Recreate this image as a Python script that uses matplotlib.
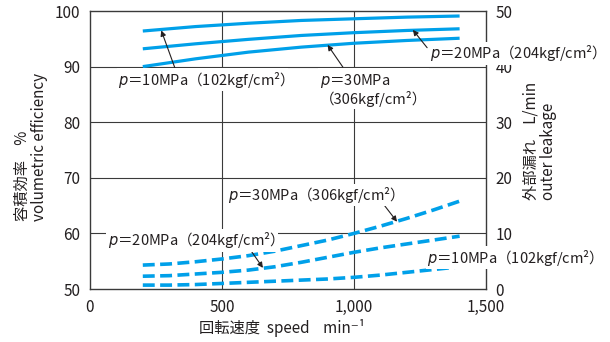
import matplotlib
matplotlib.use("Agg")
import matplotlib.pyplot as plt

plt.rcParams['font.family'] = ['Noto Sans CJK JP', 'DejaVu Sans']
plt.rcParams['mathtext.fontset'] = 'dejavusans'

# speed (min^-1)
speed_eff = [200, 400, 600, 800, 1000, 1200, 1400]
eff_10 = [96.4, 97.2, 97.8, 98.3, 98.6, 98.9, 99.1]
eff_20 = [93.2, 94.1, 94.9, 95.6, 96.1, 96.5, 96.8]
eff_30 = [90.0, 91.4, 92.6, 93.5, 94.2, 94.7, 95.1]

speed_leak = [200, 300, 400, 500, 600, 700, 800, 900, 1000, 1100, 1200, 1300, 1400]
leak_30 = [4.3, 4.5, 4.9, 5.4, 6.0, 6.8, 7.8, 8.8, 10.0, 11.3, 12.7, 14.2, 15.8]
leak_20 = [2.3, 2.4, 2.7, 3.0, 3.4, 4.0, 4.8, 5.7, 6.6, 7.4, 8.1, 8.8, 9.5]
leak_10 = [0.7, 0.7, 0.8, 1.0, 1.2, 1.4, 1.6, 1.8, 2.1, 2.5, 3.0, 3.5, 4.0]

x_ticks = [0, 500, 1000, 1500]
x_ticklabels = ["0", "500", "1,000", "1,500"]
eff_ticks = [50, 60, 70, 80, 90, 100]
leak_ticks = [0, 10, 20, 30, 40, 50]

BLUE = "#00a0e9"
INK = "#231f20"
GRID = "#3a3a3a"

fig = plt.figure(figsize=(6.1, 3.42), dpi=100)
ax = fig.add_axes([90 / 610, 1 - 289 / 342, 396 / 610, 278 / 342])
ax2 = ax.twinx()

ax.set_xlim(0, 1500)
ax.set_ylim(50, 100)
ax2.set_ylim(0, 50)

# grid
for gx in [500, 1000]:
    ax.axvline(gx, color=GRID, lw=0.8, zorder=1)
for gy in [60, 70, 80, 90]:
    ax.axhline(gy, color=GRID, lw=0.8, zorder=1)

# efficiency (solid)
for vals in [eff_10, eff_20, eff_30]:
    ax.plot(speed_eff, vals, color=BLUE, lw=2.3, solid_capstyle='butt', zorder=3)

# leakage (dashed)
for vals in [leak_30, leak_20, leak_10]:
    ax2.plot(speed_leak, vals, color=BLUE, lw=2.6, dashes=(3.3, 1.5),
             dash_capstyle='butt', zorder=3)

# axes styling
for sp in ax.spines.values():
    sp.set_visible(False)
for sp in ax2.spines.values():
    sp.set_color(GRID)
    sp.set_linewidth(1.0)

ax.set_xticks(x_ticks)
ax.set_xticklabels(x_ticklabels)
ax.set_yticks(eff_ticks)
ax2.set_yticks(leak_ticks)
ax.tick_params(length=0, labelsize=11, colors=INK, pad=7)
ax2.tick_params(length=0, labelsize=11, colors=INK, pad=7)

fig.text(31 / 610, 1 - 147 / 342, "容積効率　%\nvolumetric efficiency",
         rotation=90, ha='center', va='center', multialignment='left',
         fontsize=11, color=INK, linespacing=1.0)
fig.text(540 / 610, 1 - 141 / 342, "外部漏れ　L/min\nouter leakage",
         rotation=90, ha='center', va='center', multialignment='left',
         fontsize=11, color=INK, linespacing=1.0)
fig.text(282 / 610, 1 - 328 / 342, "回転速度  speed    min⁻¹",
         ha='center', va='center', fontsize=11, color=INK)

box = dict(boxstyle='square,pad=0.1', fc='white', ec='none')
arrow = dict(arrowstyle='-|>', color=INK, lw=0.8, mutation_scale=8,
             shrinkA=0, shrinkB=0)
fs = 10.5

# efficiency annotations (drawn on ax2 so they sit over the spine)
ax2.annotate("", xy=(270, 96.5), xycoords=ax.transData,
             xytext=(322, 89.7), textcoords=ax.transData, arrowprops=arrow)
ax2.text(106, 87.6, "$p$＝10MPa（102kgf/cm²）", transform=ax.transData,
         fontsize=fs, color=INK, ha='left', va='center', bbox=box, zorder=5)

ax2.annotate("", xy=(900, 93.9), xycoords=ax.transData,
             xytext=(958, 89.9), textcoords=ax.transData, arrowprops=arrow)
ax2.text(871, 85.9, "$p$＝30MPa\n（306kgf/cm²）", transform=ax.transData,
         fontsize=fs, color=INK, ha='left', va='center', bbox=box, zorder=5,
         linespacing=1.1)

ax2.annotate("", xy=(1223, 96.6), xycoords=ax.transData,
             xytext=(1277, 93.4), textcoords=ax.transData, arrowprops=arrow)
ax2.text(1288, 92.4, "$p$＝20MPa（204kgf/cm²）", transform=ax.transData,
         fontsize=fs, color=INK, ha='left', va='center', bbox=box, zorder=5,
         clip_on=False)

# leakage annotations
ax2.annotate("", xy=(1163, 12.1), xytext=(1106, 15.6), arrowprops=arrow)
ax2.text(523, 16.9, "$p$＝30MPa（306kgf/cm²）", fontsize=fs, color=INK,
         ha='left', va='center', bbox=box, zorder=5)

ax2.annotate("", xy=(655, 3.8), xytext=(595, 7.9), arrowprops=arrow)
ax2.text(68, 8.8, "$p$＝20MPa（204kgf/cm²）", fontsize=fs, color=INK,
         ha='left', va='center', bbox=box, zorder=5)

ax2.text(1277, 5.6, "$p$＝10MPa（102kgf/cm²）", fontsize=fs, color=INK,
         ha='left', va='center', bbox=box, zorder=5, clip_on=False)

fig.savefig("out.png", dpi=100)
